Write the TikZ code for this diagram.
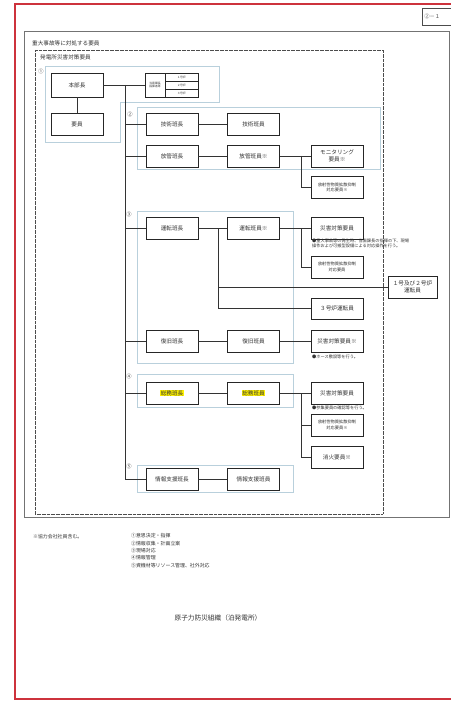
\documentclass[tikz,border=0pt]{standalone}
\usepackage{fontspec}
\setmainfont{Noto Sans CJK JP}
\definecolor{frame}{RGB}{205,50,60}
\definecolor{grpline}{RGB}{185,208,220}
\newcommand{\hlite}[1]{{\setlength{\fboxsep}{0.8pt}\colorbox{yellow}{#1}}}

\begin{document}
\begin{tikzpicture}[x=0.05cm,y=-0.05cm,
  box/.style={draw=black!85,line width=0.8pt,minimum width=2.6cm,minimum height=1.1cm,inner sep=1pt,align=center,font=\fontsize{8}{9}\selectfont,text=black!80},
  smallbox/.style={box,font=\fontsize{6}{7.5}\selectfont},
  cell/.style={draw=black!85,line width=0.6pt,inner sep=0pt,align=center,font=\fontsize{4}{4.8}\selectfont,text=black!80},
  grp/.style={draw=grpline,line width=0.6pt},
  lbl/.style={anchor=west,inner sep=0pt,font=\fontsize{8}{9}\selectfont,text=black!80},
  num/.style={inner sep=0pt,font=\fontsize{7.5}{8}\selectfont,text=black!75},
  note/.style={anchor=north west,inner sep=0pt,align=left,font=\fontsize{6}{7.2}\selectfont,text=black!80},
  conn/.style={line width=0.7pt,draw=black!80}]
\useasboundingbox (0,0) rectangle (450,702);
\fill[white] (0,0) rectangle (450,702);

% frame
\draw[frame,line width=2pt] (15,4) rectangle (470,699);
\node[draw=black!70,line width=0.8pt,minimum width=2.4cm,minimum height=0.85cm,anchor=west,align=left,text width=2.2cm,inner sep=3pt,font=\fontsize{7.5}{9}\selectfont,text=black!70] (pageno) at (422,16.5) {②－１};

% outer boxes
\draw[black!55,line width=1.3pt] (24,31) rectangle (449,517);
\node[lbl] (jlabel) at (32,43) {重大事故等に対処する要員};
\draw[black!70,line width=1pt,dash pattern=on 1.2pt off 0.6pt] (35,50) rectangle (383,514);
\node[lbl] (hlabel) at (40,57) {発電所災害対策要員};

% group frames
\draw[grp] (45,66) -- (219,66) -- (219,102) -- (120,102) -- (120,142) -- (45,142) -- cycle;
\draw[grp] (137,107) rectangle (380,169);
\draw[grp] (137,211) rectangle (293,363);
\draw[grp] (137,374) rectangle (293,407);
\draw[grp] (137,465) rectangle (293,492);
\node[num] (n1) at (41,71) {①};
\node[num] (n2) at (130,114) {②};
\node[num] (n3) at (129,214) {③};
\node[num] (n4) at (129,376) {④};
\node[num] (n5) at (129,466) {⑤};

% (1)
\node[box,minimum height=1.2cm] (honbu) at (77,85) {本部長};
\node[box] (yoin) at (77,124.5) {要員};
\node[cell,minimum width=1cm,minimum height=1.2cm] (shiki) at (155,85) {当直課長\\指揮者等};
\node[cell,minimum width=1.65cm,minimum height=0.4cm] (r1) at (181.5,77) {１号炉};
\node[cell,minimum width=1.65cm,minimum height=0.4cm] (r2) at (181.5,85) {２号炉};
\node[cell,minimum width=1.65cm,minimum height=0.4cm] (r3) at (181.5,93) {３号炉};

% (2)
\node[box] (gijutsuC) at (172,124.5) {技術班長};
\node[box] (gijutsuM) at (253.5,124.5) {技術班員};
\node[box] (houkanC) at (172,156) {放管班長};
\node[box] (houkanM) at (253.5,156) {放管班員※};
\node[box] (monit) at (337,156) {モニタリング\\要員※};
\node[smallbox] (kakusanA) at (337,187.5) {放射性物質拡散抑制\\対応要員※};

% (3)
\node[box] (untenC) at (172,228) {運転班長};
\node[box] (untenM) at (253.5,228) {運転班員※};
\node[box] (saigaiA) at (337,228) {災害対策要員};
\node[note] (noteA) at (312,238.5) {●重大事故等の発生時、当直課長の指揮の下、現場\\操作および可搬型設備による対応操作を行う。};
\node[smallbox] (kakusanB) at (337,267) {放射性物質拡散抑制\\対応要員};
\node[box,minimum width=2.45cm] (ichini) at (412.5,287) {１号及び２号炉\\運転員};
\node[box,minimum height=1.05cm] (sango) at (337,308.5) {３号炉運転員};
\node[box] (fukkyuC) at (172,341) {復旧班長};
\node[box] (fukkyuM) at (253.5,341) {復旧班員};
\node[box] (saigaiB) at (337,341) {災害対策要員※};
\node[note] (noteB) at (312,354.5) {●ホース敷設等を行う。};

% (4)
\node[box] (soumuC) at (172,393) {\hlite{総務班長}};
\node[box] (soumuM) at (253.5,393) {\hlite{総務班員}};
\node[box] (saigaiC) at (337,393) {災害対策要員};
\node[note] (noteC) at (312,406) {●参集要員の確認等を行う。};
\node[smallbox] (kakusanC) at (337,425) {放射性物質拡散抑制\\対応要員※};
\node[box] (shoka) at (337,457.5) {消火要員※};

% (5)
\node[box] (jouhouC) at (172,479) {情報支援班長};
\node[box] (jouhouM) at (253.5,479) {情報支援班員};

% connectors
\coordinate (trunk) at (125,85);
\draw[conn] (honbu.east) -- (shiki.west);
\draw[conn] (honbu.south) -- (yoin.north);
\draw[conn] (trunk) |- (jouhouC.west);
\foreach \n in {gijutsuC,houkanC,untenC,fukkyuC,soumuC}
  \draw[conn] (trunk |- \n.west) -- (\n.west);
\foreach \a/\b in {gijutsuC/gijutsuM,houkanC/houkanM,houkanM/monit,untenC/untenM,untenM/saigaiA,fukkyuC/fukkyuM,fukkyuM/saigaiB,soumuC/soumuM,soumuM/saigaiC,jouhouC/jouhouM}
  \draw[conn] (\a.east) -- (\b.west);
\coordinate (j2) at (301,156);
\draw[conn] (j2) |- (kakusanA.west);
\coordinate (j3) at (218,228);
\draw[conn] (j3) |- (sango.west);
\draw[conn] (j3 |- ichini.west) -- (ichini.west);
\coordinate (j3b) at (301,228);
\draw[conn] (j3b) |- (kakusanB.west);
\coordinate (j4) at (301,393);
\draw[conn] (j4) |- (shoka.west);
\draw[conn] (j4 |- kakusanC.west) -- (kakusanC.west);

% notes
\node[lbl,font=\fontsize{7}{8}\selectfont] (kyoryoku) at (33,537) {※協力会社社員含む。};
\node[lbl,font=\fontsize{7}{8}\selectfont] (l1) at (131,536) {①意思決定・指揮};
\node[lbl,font=\fontsize{7}{8}\selectfont] (l2) at (131,543.5) {②情報収集・計画立案};
\node[lbl,font=\fontsize{7}{8}\selectfont] (l3) at (131,551) {③現場対応};
\node[lbl,font=\fontsize{7}{8}\selectfont] (l4) at (131,558) {④情報管理};
\node[lbl,font=\fontsize{7}{8}\selectfont] (l5) at (131,565.5) {⑤資機材等リソース管理、社外対応};

\node[inner sep=0pt,font=\fontsize{9.5}{11}\selectfont,text=black!80] (title) at (218,618) {原子力防災組織（泊発電所）};
\end{tikzpicture}
\end{document}
